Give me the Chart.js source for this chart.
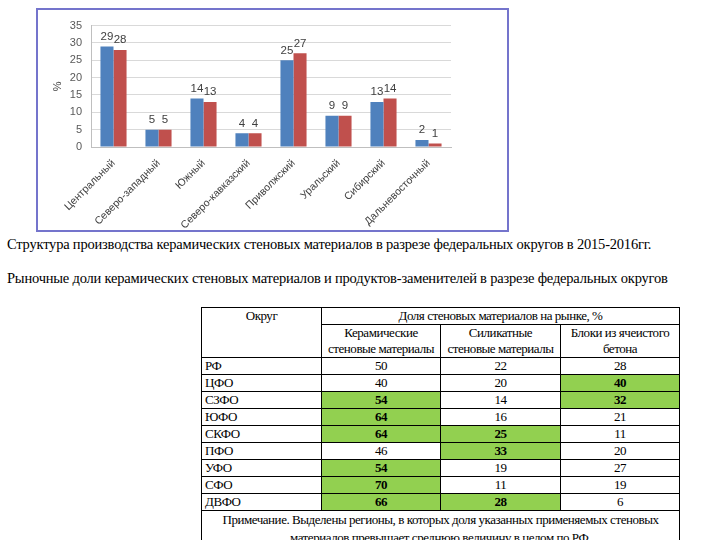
<!DOCTYPE html>
<html>
<head>
<meta charset="utf-8">
<script src="https://cdn.jsdelivr.net/npm/chart.js@4/dist/chart.umd.min.js"></script>
<style>
  html, body { margin: 0; padding: 0; width: 720px; height: 540px; overflow: hidden; background: #fff; }
  #box { position: absolute; left: 36px; top: 8px; width: 473px; height: 224px; box-sizing: border-box; border: 2px solid #7474cc; }
  #chart { position: absolute; left: 0; top: 0; }
  .cap { position: absolute; left: 7px; font-family: "Liberation Serif", "DejaVu Serif", serif; font-size: 14.5px; line-height: 17px; color: #000; white-space: nowrap; letter-spacing: -0.2px; }
  #tbl { position: absolute; left: 201px; top: 307px; border-collapse: collapse; table-layout: fixed; font-family: "Liberation Serif", "DejaVu Serif", serif; font-size: 13px; letter-spacing: -0.45px; color: #000; }
  #tbl td { border: 1px solid #000; padding: 0 3px; line-height: 16px; height: 15.7px; text-align: center; vertical-align: middle; overflow: hidden; white-space: nowrap; }
  #tbl td.reg { text-align: left; }
  #tbl td.hl { background: #92d050; font-weight: bold; }
  #tbl td.top { vertical-align: top; }
  #tbl td.note { line-height: 17.5px; }
</style>
</head>
<body>
<div id="box"><canvas id="chart" width="469" height="220"></canvas></div>
<div class="cap" style="top:236px;">Структура производства керамических стеновых материалов в разрезе федеральных округов в 2015-2016гг.</div>
<div class="cap" style="top:270px;">Рыночные доли керамических стеновых материалов и продуктов-заменителей в разрезе федеральных округов</div>
<table id="tbl"></table>
<script>
// ---- Chart data ----
const districts = ["Центральный", "Северо-западный", "Южный", "Северо-кавказский", "Приволжский", "Уральский", "Сибирский", "Дальневосточный"];
const share2015 = [29, 5, 14, 4, 25, 9, 13, 2];
const share2016 = [28, 5, 13, 4, 27, 9, 14, 1];
const yTicks = [0, 5, 10, 15, 20, 25, 30, 35];

// ---- Table data ----
const tableHeader = "Доля стеновых материалов на рынке, %";
const tableColumns = ["Керамические<br>стеновые материалы", "Силикатные<br>стеновые материалы", "Блоки из ячеистого<br>бетона"];
const regions = ["РФ", "ЦФО", "СЗФО", "ЮФО", "СКФО", "ПФО", "УФО", "СФО", "ДВФО"];
const ceramic = [50, 40, 54, 64, 64, 46, 54, 70, 66];
const silicate = [22, 20, 14, 16, 25, 33, 19, 11, 28];
const aerated = [28, 40, 32, 21, 11, 20, 27, 19, 6];
const tableNote = "Примечание. Выделены регионы, в которых доля указанных применяемых стеновых<br>материалов превышает среднюю величину в целом по РФ.";

// build table
(function () {
  const t = document.getElementById('tbl');
  let h = '<colgroup><col style="width:120px"><col style="width:119px"><col style="width:120px"><col style="width:119px"></colgroup>';
  h += '<tr><td rowspan="2" class="top" style="height:16px">Округ</td><td colspan="3" style="height:16px">' + tableHeader + '</td></tr>';
  h += '<tr>' + tableColumns.map(c => '<td style="height:32px">' + c + '</td>').join('') + '</tr>';
  const cols = [ceramic, silicate, aerated];
  for (let i = 0; i < regions.length; i++) {
    h += '<tr><td class="reg">' + regions[i] + '</td>';
    for (const col of cols) {
      const hl = i > 0 && col[i] > col[0];
      h += '<td' + (hl ? ' class="hl"' : '') + '>' + col[i] + '</td>';
    }
    h += '</tr>';
  }
  h += '<tr><td colspan="4" class="note" style="height:34px">' + tableNote + '</td></tr>';
  t.innerHTML = h;
})();

const valueLabels = {
  id: 'valueLabels',
  afterDatasetsDraw(chart) {
    const ctx = chart.ctx;
    ctx.save();
    ctx.font = '11.5px "Liberation Sans", Arial, sans-serif';
    ctx.fillStyle = '#404040';
    ctx.textAlign = 'center';
    ctx.textBaseline = 'bottom';
    chart.data.datasets.forEach((ds, di) => {
      chart.getDatasetMeta(di).data.forEach((bar, i) => {
        ctx.fillText(String(ds.data[i]), bar.x, bar.y - 4);
      });
    });
    ctx.restore();
  }
};

new Chart(document.getElementById('chart'), {
  type: 'bar',
  data: {
    labels: districts,
    datasets: [
      { label: '2015', data: share2015, backgroundColor: '#4f81bd', barPercentage: 1.0, categoryPercentage: 0.58 },
      { label: '2016', data: share2016, backgroundColor: '#c0504d', barPercentage: 1.0, categoryPercentage: 0.58 }
    ]
  },
  options: {
    responsive: false,
    animation: false,
    layout: { padding: { left: 0, top: 7, right: 56, bottom: 0 } },
    plugins: { legend: { display: false }, tooltip: { enabled: false } },
    scales: {
      x: {
        grid: { display: false, drawTicks: false },
        border: { display: true, color: '#bfbfbf' },
        ticks: { maxRotation: 45, minRotation: 45, autoSkip: false, padding: 10, color: '#404040', font: { size: 10.5, family: '"Liberation Sans", Arial, sans-serif' } },
        afterFit(s) { s.height = 83; }
      },
      y: {
        min: 0, max: 35,
        afterBuildTicks(s) { s.ticks = yTicks.map(v => ({ value: v })); },
        grid: { color: '#d9d9d9', drawTicks: false },
        border: { display: true, color: '#bfbfbf' },
        ticks: { padding: 9, color: '#595959', font: { size: 11, family: '"Liberation Sans", Arial, sans-serif' } },
        title: { display: true, text: '%', color: '#404040', font: { size: 11, family: '"Liberation Sans", Arial, sans-serif' }, padding: { top: 13 } },
        afterFit(s) { s.width = 53; }
      }
    }
  },
  plugins: [valueLabels]
});
</script>
</body>
</html>
